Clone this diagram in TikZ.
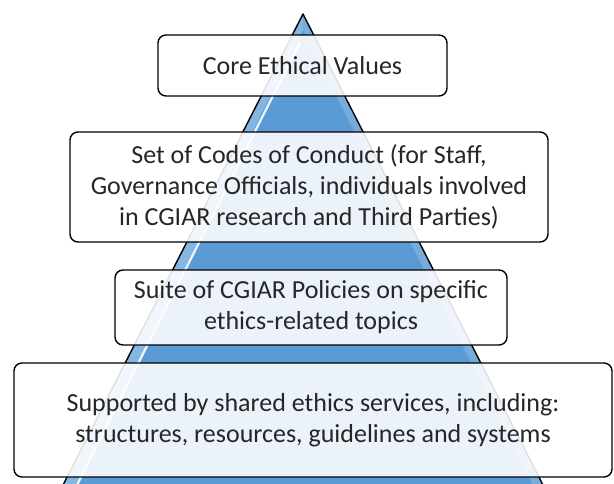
\documentclass[tikz,border=0pt]{standalone}
\usepackage{fontspec}
\setmainfont{Carlito}
\definecolor{pyrBlue}{HTML}{5B9BD5}
\definecolor{pyrLight}{HTML}{A9CBEB}
\definecolor{txtGray}{HTML}{262626}
\begin{document}
\begin{tikzpicture}[x=1pt,y=-1pt,
  tier/.style={draw=black, line width=1.4pt, rounded corners=8pt,
    fill=white, fill opacity=0.88, text opacity=1, text=txtGray,
    align=center, inner sep=0pt,
    font=\fontsize{26}{31}\selectfont},
  outline/.style={line width=1.4pt, line join=round}
]
\useasboundingbox (0,0) rectangle (614,483);

% pyramid in the background
\coordinate (apex) at (303,14);
\coordinate (bl) at (62,487);
\coordinate (br) at (544,487);
\begin{scope}
  \clip (0,0) rectangle (614,483);
  \fill[pyrBlue] (apex) -- (bl) -- (br) -- cycle;
  % soft light band along the left face
  \fill[pyrLight, opacity=0.55] (apex) -- (bl) -- (76,487) -- (303,30) -- cycle;
  % glossy highlight line
  \draw[white, line width=2.2pt, opacity=0.9] (300,42) -- (76,487);
  % faint light band on the right face
  \fill[pyrLight, opacity=0.35] (apex) -- (br) -- (534,487) -- (303,30) -- cycle;
  \draw[outline] (apex) -- (bl) -- (br) -- cycle;
\end{scope}

% tiers
\node[tier, minimum width=289, minimum height=61] (core) at (302.5,65.5)
  {Core Ethical Values};
\node[tier, minimum width=478, minimum height=110] (codes) at (309,187)
  {Set of Codes of Conduct (for Staff,\\Governance Officials, individuals involved\\in CGIAR research and Third Parties)};
\node[tier, minimum width=392, minimum height=75] (policies) at (311,307.5)
  {Suite of CGIAR Policies on specific\\ethics-related topics};
\node[tier, minimum width=598, minimum height=114] (services) at (313,420)
  {Supported by shared ethics services, including:\\structures, resources, guidelines and systems};
\end{tikzpicture}
\end{document}
